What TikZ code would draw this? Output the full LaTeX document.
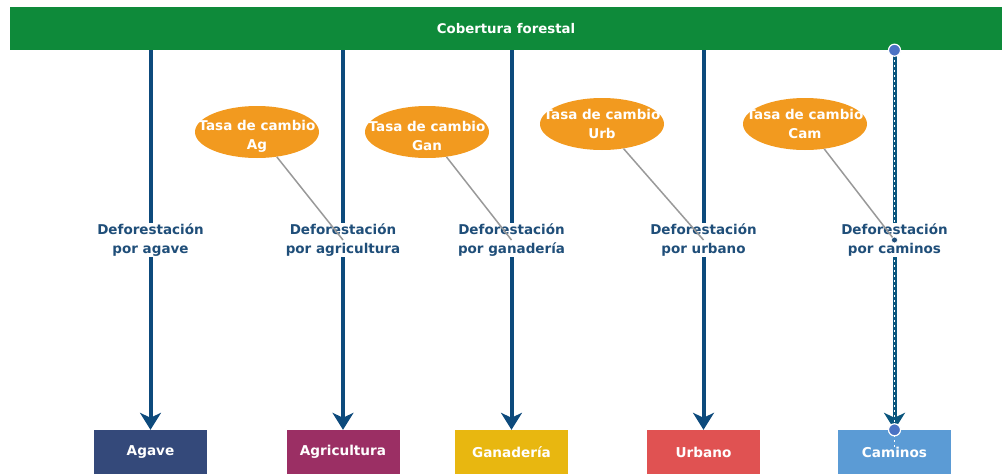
\documentclass[tikz,border=0pt]{standalone}
\usepackage{fontspec}
\setmainfont{DejaVu Sans}
\usetikzlibrary{shapes.geometric,arrows.meta}
\definecolor{cgreen}{HTML}{0E8A3A}
\definecolor{carrow}{HTML}{0D4A7C}
\definecolor{clabel}{HTML}{1F4E79}
\definecolor{corange}{HTML}{F29A1F}
\definecolor{cagave}{HTML}{34497A}
\definecolor{cagri}{HTML}{9B2F64}
\definecolor{cgan}{HTML}{E8B710}
\definecolor{curb}{HTML}{E05252}
\definecolor{ccam}{HTML}{5B9BD5}
\definecolor{cgray}{HTML}{999999}
\definecolor{chandle}{HTML}{4A72C4}
\tikzset{
  barbox/.style={fill=cgreen, text=white, font=\bfseries\fontsize{13.3}{15}\selectfont, minimum width=992pt, minimum height=43pt, inner sep=0pt},
  catbox/.style={text=white, font=\bfseries\fontsize{13.6}{15}\selectfont, minimum width=113pt, minimum height=44pt, inner sep=0pt},
  arr/.style={draw=carrow, line width=4pt, -{Stealth[length=17pt, width=21pt, inset=5pt]}},
  lbl/.style={fill=white, text=clabel, align=center, font=\bfseries\fontsize{13.5}{19}\selectfont, inner sep=1pt},
  oval/.style={ellipse, fill=corange, minimum width=124pt, minimum height=52pt, inner sep=0pt},
  ovaltxt/.style={text=white, align=center, font=\bfseries\fontsize{13.5}{19}\selectfont, inner sep=0pt},
  gline/.style={draw=cgray, line width=1.5pt},
  handle/.style={circle, fill=chandle, draw=white, line width=1.2pt, minimum size=12pt, inner sep=0pt}
}
\begin{document}
\begin{tikzpicture}[x=1pt, y=-1pt]
\useasboundingbox (0,0) rectangle (1002,474);
\node[barbox] (cob) at (506,28.5) {Cobertura forestal};
\node[catbox, fill=cagave] (ag) at (150.5,452) {Agave};
\node[catbox, fill=cagri] (agr) at (343,452) {Agricultura};
\node[catbox, fill=cgan] (gan) at (511.5,452) {Ganadería};
\node[catbox, fill=curb] (urb) at (703.5,452) {Urbano};
\node[catbox, fill=ccam] (cam) at (894.5,452) {Caminos};
% arrows
\draw[arr] (cob.south -| ag.north) -- (ag.north);
\draw[arr] (cob.south -| agr.north) -- (agr.north);
\draw[arr] (cob.south -| gan.north) -- (gan.north);
\draw[arr] (cob.south -| urb.north) -- (urb.north);
\draw[arr, draw=carrow!80!teal] (cob.south -| cam.north) -- (cam.north);
\draw[white, line width=1pt, dash pattern=on 2pt off 3pt] (cob.south -| cam.north) -- ([yshift=-18pt]cam.north);
% labels
\node[lbl] (l1) at (150.5,240) {Deforestación\\por agave};
\node[lbl] (l2) at (343,240) {Deforestación\\por agricultura};
\node[lbl] (l3) at (511.5,240) {Deforestación\\por ganadería};
\node[lbl] (l4) at (703.5,240) {Deforestación\\por urbano};
\node[lbl] (l5) at (894.5,240) {Deforestación\\por caminos};
% ovals
\node[oval] (e1) at (257,132) {};
\node[ovaltxt] (t1) at ([yshift=-4pt]e1.center) {Tasa de cambio\\Ag};
\node[oval] (e2) at (427,132) {};
\node[ovaltxt] (t2) at ([yshift=-4pt]e2.center) {Tasa de cambio\\Gan};
\node[oval] (e3) at (602,124) {};
\node[ovaltxt] (t3) at (e3) {Tasa de cambio\\Urb};
\node[oval] (e4) at (805,124) {};
\node[ovaltxt] (t4) at (e4) {Tasa de cambio\\Cam};
% gray links
\draw[gline] (e1) -- (l2.center);
\draw[gline] (e2) -- (l3.center);
\draw[gline] (e3) -- (l4.center);
\draw[gline] (e4) -- (l5.center);
% selection handles
\node[handle] (h1) at (cob.south -| cam.north) {};
\node[handle] (h2) at (cam.north) {};
\node[circle, fill=clabel, draw=white, line width=0.6pt, minimum size=6pt, inner sep=0pt] (h3) at (l5.center) {};
\end{tikzpicture}
\end{document}
